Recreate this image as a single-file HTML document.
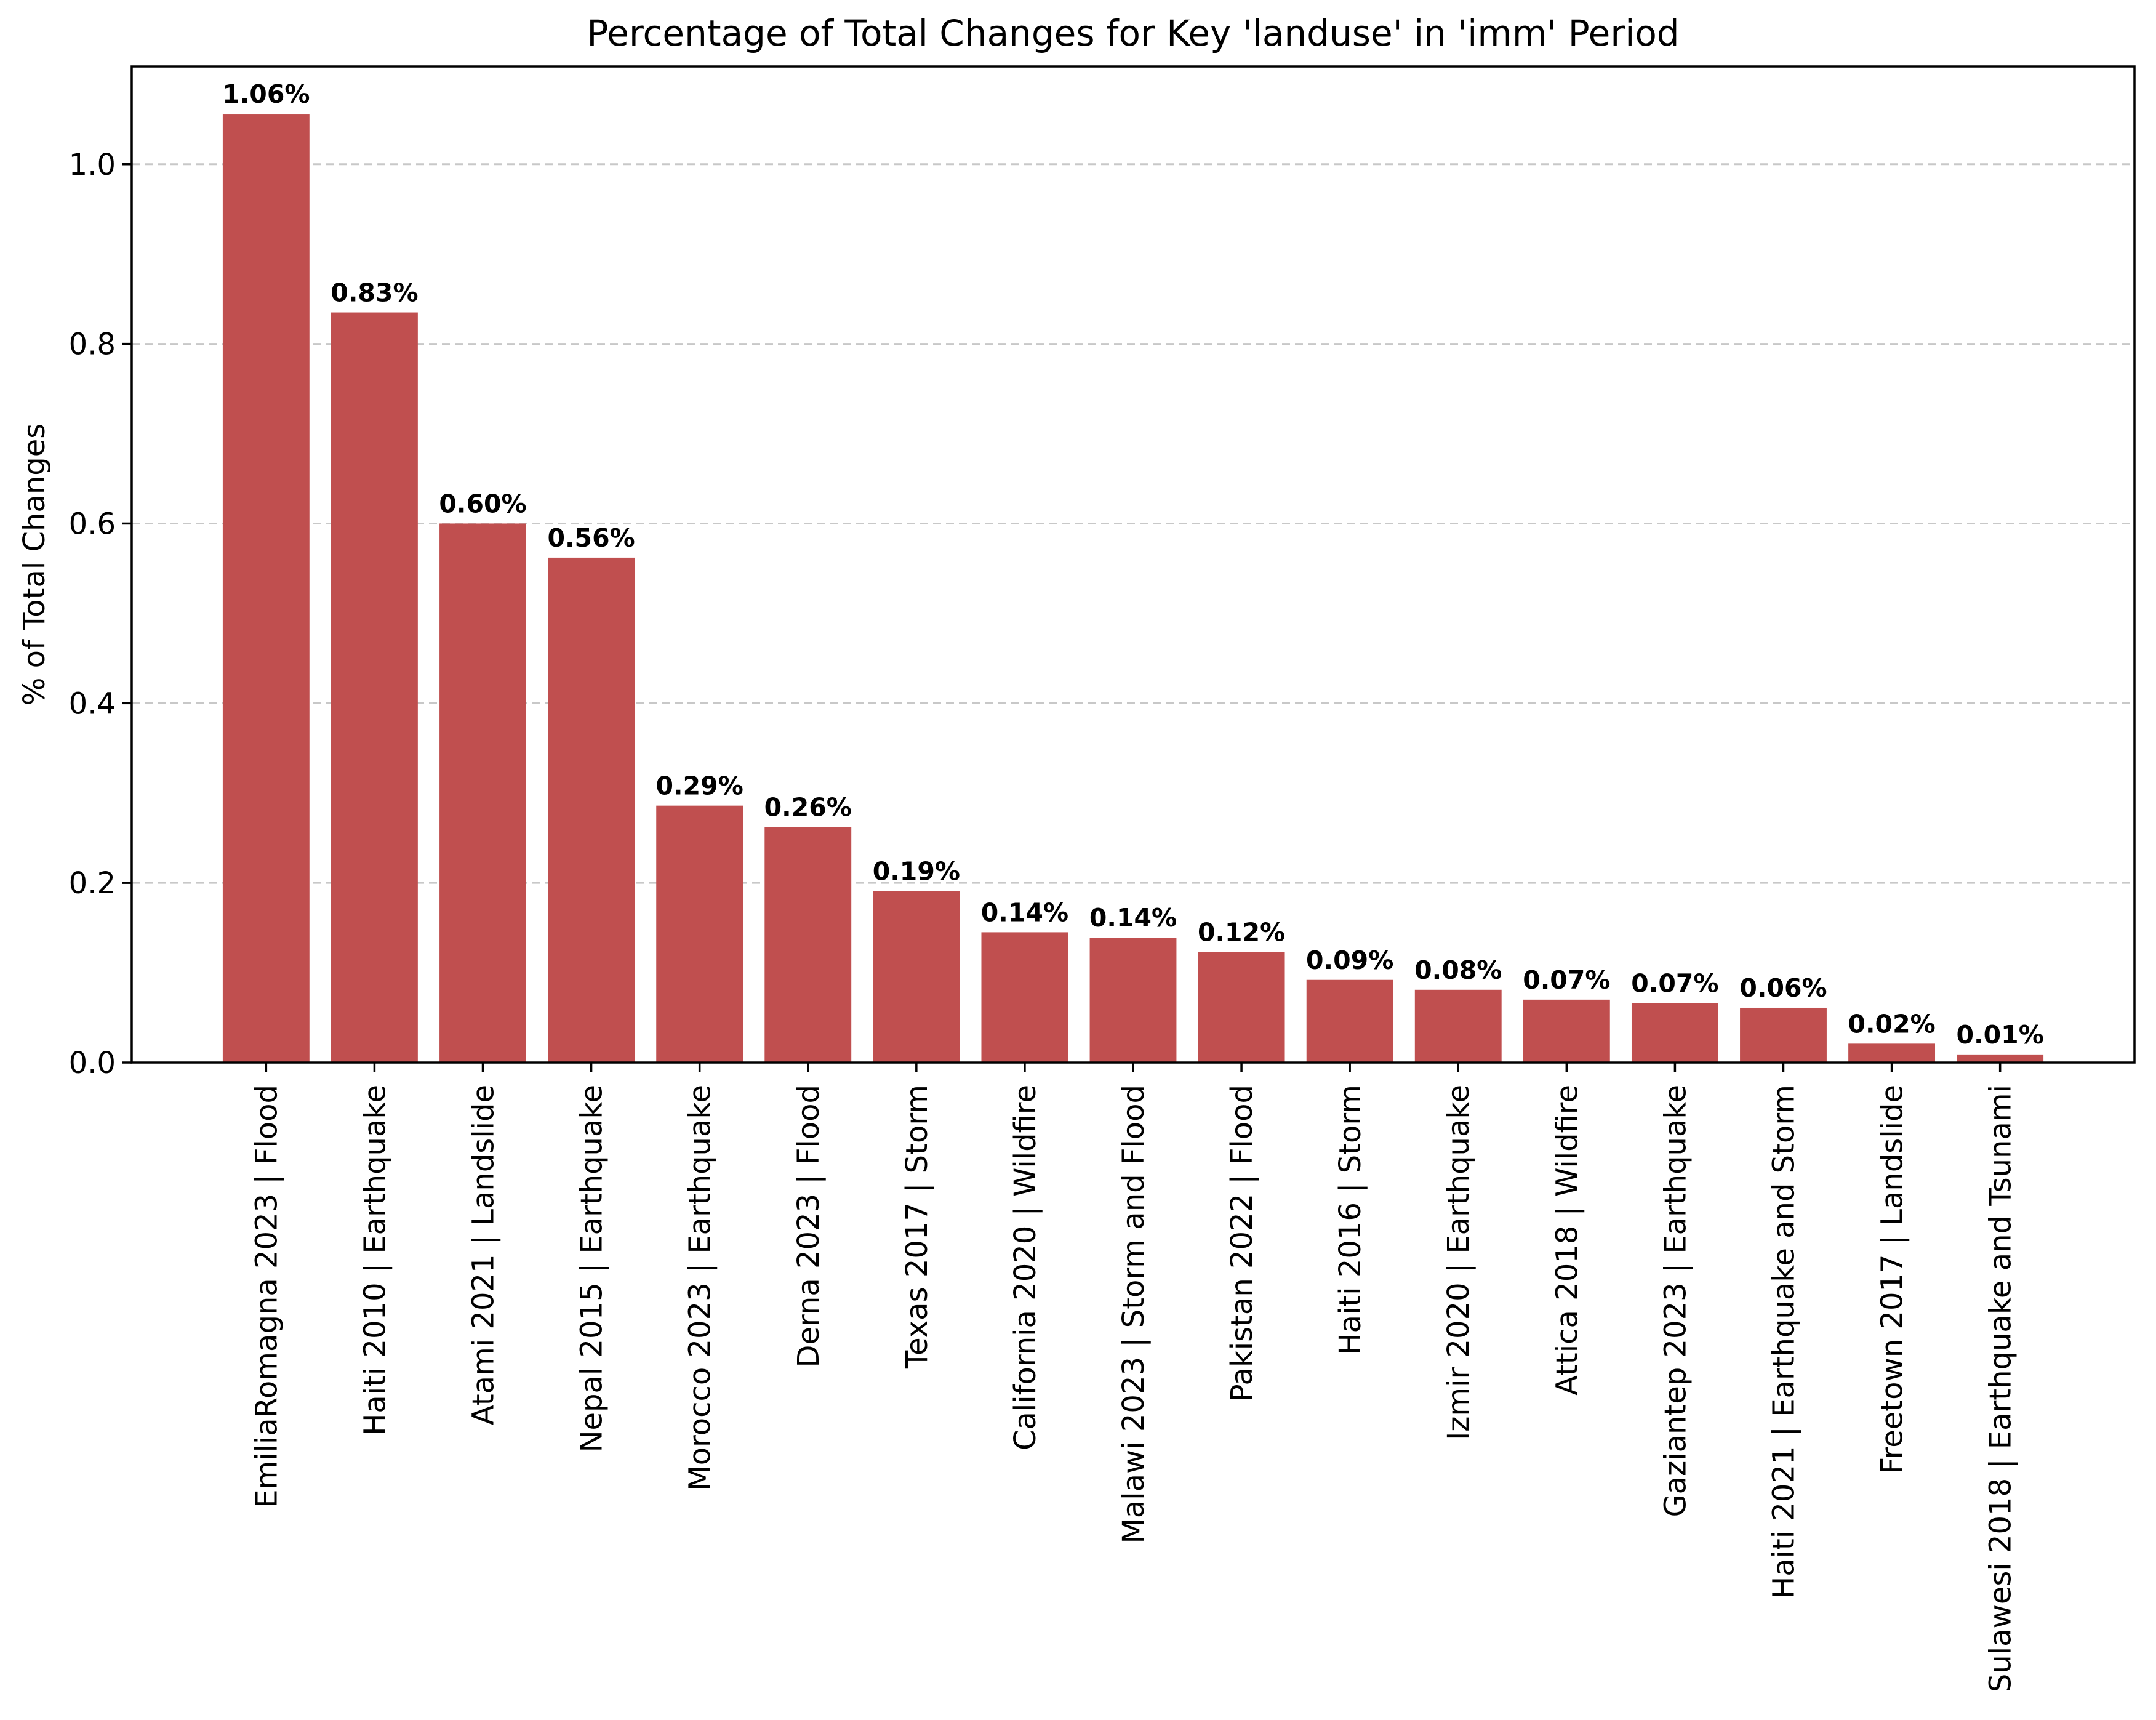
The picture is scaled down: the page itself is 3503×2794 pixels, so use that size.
<!DOCTYPE html>
<html><head><meta charset="utf-8"><style>
html,body{margin:0;padding:0;background:#fff;}
svg{display:block;font-family:"DejaVu Sans","Liberation Sans",sans-serif;}
</style></head><body>
<svg id="chart" width="3503" height="2794" viewBox="0 0 3503 2794" xmlns="http://www.w3.org/2000/svg">
<rect width="3503" height="2794" fill="#fff"/>
<text x="1841" y="74" text-anchor="middle" font-size="58">Percentage of Total Changes for Key 'landuse' in 'imm' Period</text>
<text transform="translate(72,917) rotate(-90)" text-anchor="middle" font-size="48">% of Total Changes</text>
<g id="grid"></g>
<g id="bars"></g>
<g id="labels"></g>
<g id="yticks"></g>
<g id="xticks"></g>
<rect x="214" y="108" width="3254" height="1618" fill="none" stroke="#000" stroke-width="3.5"/>
</svg>
<script>
const categories = ["EmiliaRomagna 2023 | Flood","Haiti 2010 | Earthquake","Atami 2021 | Landslide","Nepal 2015 | Earthquake","Morocco 2023 | Earthquake","Derna 2023 | Flood","Texas 2017 | Storm","California 2020 | Wildfire","Malawi 2023 | Storm and Flood","Pakistan 2022 | Flood","Haiti 2016 | Storm","Izmir 2020 | Earthquake","Attica 2018 | Wildfire","Gaziantep 2023 | Earthquake","Haiti 2021 | Earthquake and Storm","Freetown 2017 | Landslide","Sulawesi 2018 | Earthquake and Tsunami"];
const values = [1.056,0.835,0.600,0.562,0.286,0.262,0.191,0.145,0.139,0.123,0.092,0.081,0.070,0.066,0.061,0.021,0.009];
const yTicks = [0.0,0.2,0.4,0.6,0.8,1.0];
const yTickLabels = ["0.0","0.2","0.4","0.6","0.8","1.0"];

const L=214,R=3468,T=108,B=1726;
const xmin=-1.24,xmax=categories.length-1+1.24;
const ymax=Math.max(...values)*1.05;
const xs=i=>L+(i-xmin)/(xmax-xmin)*(R-L);
const ys=v=>B-v/ymax*(B-T);
const bw=0.8*(R-L)/(xmax-xmin);
const NS="http://www.w3.org/2000/svg";
function mk(tag,attrs,parent,txt){const e=document.createElementNS(NS,tag);for(const k in attrs)e.setAttribute(k,attrs[k]);if(txt!==undefined)e.textContent=txt;document.getElementById(parent).appendChild(e);return e;}

yTicks.forEach((t,i)=>{
  if(t>0){
    const g=mk('line',{x1:L,x2:R,y1:ys(t),y2:ys(t),stroke:'#c8c8c8','stroke-width':3,'stroke-dasharray':'13,8'},'grid');
    
    
  }
  const tk=mk('line',{x1:L-15,x2:L,y1:ys(t),y2:ys(t),stroke:'#000','stroke-width':3.5},'yticks');
  
  
  const tl=mk('text',{x:L-26,y:ys(t)+17,'text-anchor':'end','font-size':48},'yticks',yTickLabels[i]);
  
  
});

values.forEach((v,i)=>{
  const cx=xs(i);
  const b=mk('rect',{x:cx-bw/2,y:ys(v),width:bw,height:B-ys(v),fill:'#c04f4f'},'bars');
  
  
  const lb=mk('text',{x:cx,y:ys(v)-18,'text-anchor':'middle','font-size':41,'font-weight':'bold'},'labels',v.toFixed(2)+'%');
  
  
  const tk=mk('line',{x1:cx,x2:cx,y1:B,y2:B+15,stroke:'#000','stroke-width':3.5},'xticks');
  
  
  const xl=mk('text',{transform:`translate(${cx+17},${B+36}) rotate(-90)`,'text-anchor':'end','font-size':48},'xticks',categories[i]);
  
  
});
</script>
</body></html>
